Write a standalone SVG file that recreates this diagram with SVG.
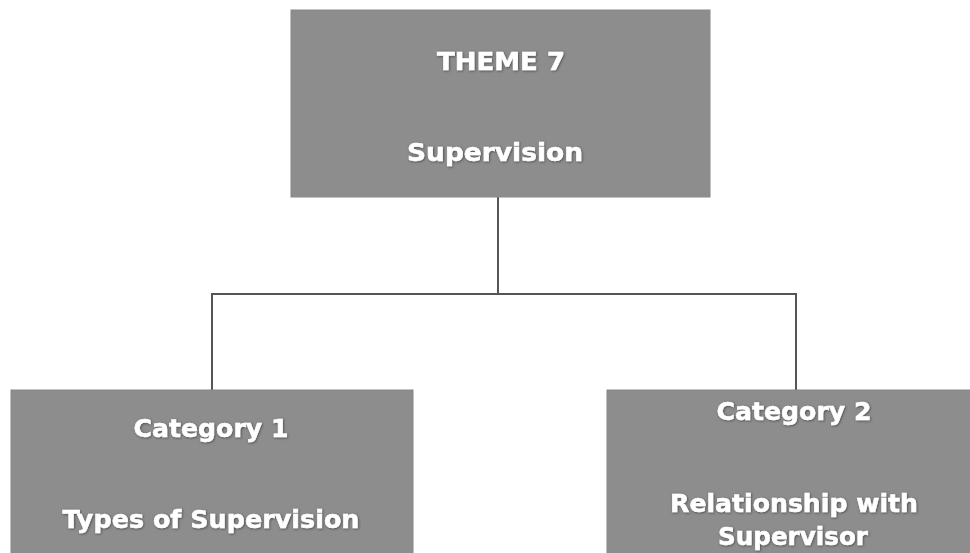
<svg xmlns="http://www.w3.org/2000/svg" width="970" height="553" viewBox="0 0 970 553">
  <defs>
    <filter id="sh" x="-10%" y="-30%" width="120%" height="160%">
      <feDropShadow dx="0.8" dy="0.8" stdDeviation="0.8" flood-color="#3a3a3a" flood-opacity="0.8"/>
    </filter>
  </defs>
  <style>
    .box { fill: #8d8d8d; stroke: #888888; stroke-width: 1; }
    .t { font-family: "DejaVu Sans", "Liberation Sans", sans-serif; font-weight: bold; font-size: 25px; fill: #ffffff; stroke: #ffffff; stroke-width: 0.5; text-anchor: middle; filter: url(#sh); }
    .conn { fill: none; stroke: #555555; stroke-width: 2; }
  </style>
  <rect width="970" height="553" fill="#ffffff"/>
  <g id="connectors">
    <path class="conn" d="M498 197 V294"/>
    <path class="conn" d="M212 390 V294 H796 V390"/>
  </g>
  <g id="theme7">
    <rect class="box" x="291" y="10" width="419" height="187"/>
    <text class="t" x="501" y="70" textLength="128" lengthAdjust="spacingAndGlyphs">THEME 7</text>
    <text class="t" x="495" y="161" textLength="176" lengthAdjust="spacingAndGlyphs">Supervision</text>
  </g>
  <g id="category1">
    <rect class="box" x="11" y="390" width="402" height="170"/>
    <text class="t" x="211" y="437" textLength="155" lengthAdjust="spacingAndGlyphs">Category 1</text>
    <text class="t" x="211" y="528" textLength="297" lengthAdjust="spacingAndGlyphs">Types of Supervision</text>
  </g>
  <g id="category2">
    <rect class="box" x="607" y="390" width="370" height="170"/>
    <text class="t" x="794" y="420" textLength="155" lengthAdjust="spacingAndGlyphs">Category 2</text>
    <text class="t" x="794" y="512" textLength="248" lengthAdjust="spacingAndGlyphs">Relationship with</text>
    <text class="t" x="793" y="545" textLength="150" lengthAdjust="spacingAndGlyphs">Supervisor</text>
  </g>
</svg>
